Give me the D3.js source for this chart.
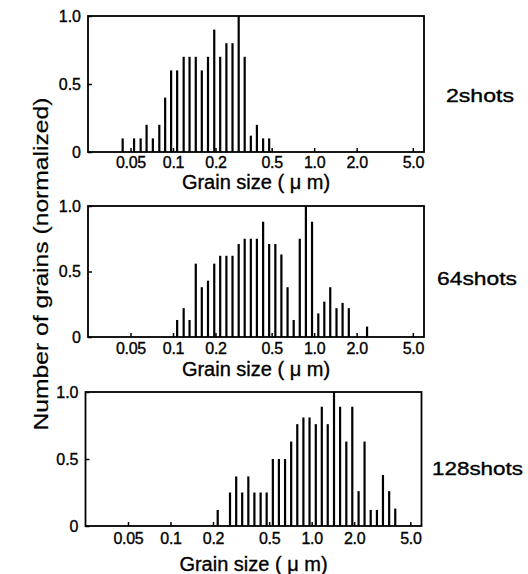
<!DOCTYPE html>
<html lang="en">
<head>
    <meta charset="UTF-8">
    <title>Grain size distribution</title>
    <script src="https://cdn.jsdelivr.net/npm/d3@7"></script>
    <style>
        body { margin: 0; background: #fff; }
        svg text { font-family: "Liberation Sans", Arial, Helvetica, sans-serif; fill: #000; stroke: #000; stroke-width: 0.35px; }
    </style>
</head>
<body>
<script>
    // bin centres (um) and normalized counts
    var size2 = [0.044, 0.053, 0.059, 0.065, 0.072, 0.080, 0.088, 0.097, 0.107, 0.119, 0.131, 0.145,
                 0.160, 0.177, 0.196, 0.216, 0.239, 0.264, 0.292, 0.322, 0.356, 0.393, 0.435, 0.480];
    var count2 = [0.1, 0.1, 0.1, 0.2, 0.1, 0.2, 0.4, 0.6, 0.6, 0.7, 0.7, 0.7,
                  0.6, 0.7, 0.9, 0.7, 0.8, 0.8, 1.0, 0.7, 0.12, 0.2, 0.1, 0.1];

    var size64 = [0.107, 0.119, 0.131, 0.145, 0.160, 0.177, 0.196, 0.216, 0.239, 0.264,
                  0.292, 0.322, 0.356, 0.393, 0.435, 0.480, 0.531, 0.586, 0.648, 0.716,
                  0.791, 0.874, 0.966, 1.07, 1.18, 1.30, 1.44, 1.59, 1.76, 2.37];
    var count64 = [0.13, 0.22, 0.13, 0.56, 0.38, 0.43, 0.56, 0.62, 0.62, 0.62,
                   0.71, 0.75, 0.75, 0.75, 0.88, 0.71, 0.71, 0.63, 0.38, 0.13,
                   0.75, 1.0, 0.88, 0.18, 0.27, 0.38, 0.22, 0.26, 0.22, 0.08];

    var size128 = [0.216, 0.264, 0.292, 0.322, 0.356, 0.393, 0.435, 0.480, 0.531, 0.586,
                   0.648, 0.716, 0.791, 0.874, 0.966, 1.07, 1.18, 1.30, 1.44, 1.59,
                   1.76, 1.94, 2.15, 2.37, 2.62, 2.90, 3.20, 3.54, 3.91];
    var count128 = [0.12, 0.25, 0.37, 0.25, 0.37, 0.25, 0.25, 0.25, 0.5, 0.5,
                    0.5, 0.63, 0.76, 0.81, 0.81, 0.76, 0.89, 0.76, 1.0, 0.89,
                    0.63, 0.89, 0.26, 0.63, 0.12, 0.12, 0.38, 0.26, 0.13];

    var sizeTicks = [0.05, 0.1, 0.2, 0.5, 1.0, 2.0, 5.0];
    var sizeTickLabels = ["0.05", "0.1", "0.2", "0.5", "1.0", "2.0", "5.0"];
    var countTicks = [0, 0.5, 1.0];
    var countTickLabels = ["0", "0.5", "1.0"];
    var shotLabels = ["2shots", "64shots", "128shots"];
    var xTitle = "Grain size ( \u03bc m)";
    var yTitle = "Number of grains (normalized)";

    var sizes = [size2, size64, size128];
    var counts = [count2, count64, count128];

    // panel placement in the page
    var panels = [
        {top: 16, bottom: 152, dx: 0, tickPad: 5, titleY: 189, labelX: 446, labelY: 102, labelW: 68},
        {top: 206, bottom: 337, dx: 0, tickPad: 6, titleY: 376, labelX: 437, labelY: 285, labelW: 80},
        {top: 392, bottom: 526, dx: -2.5, tickPad: 7, titleY: 571, labelX: 432, labelY: 475, labelW: 91}
    ];

    var svg = d3.select("body").append("svg")
        .attr("width", 528)
        .attr("height", 574);

    var x = d3.scaleLog()
        .domain([0.025, 6])
        .range([88, 424]);

    panels.forEach(function(p, i) {
        var y = d3.scaleLinear()
            .domain([0, 1])
            .range([p.bottom, p.top]);

        var g = svg.append("g")
            .attr("transform", "translate(" + p.dx + ",0)");

        var bars = sizes[i].map(function(s, j) { return {s: s, c: counts[i][j]}; });

        g.selectAll("rect.bar")
            .data(bars)
            .enter()
            .append("rect")
            .attr("class", "bar")
            .attr("x", function(d) { return x(d.s) - 1.1; })
            .attr("width", 2.2)
            .attr("y", function(d) { return y(d.c); })
            .attr("height", function(d) { return y(0) - y(d.c); })
            .style("fill", "#000");

        // frame
        g.append("rect")
            .attr("x", x.range()[0])
            .attr("y", p.top)
            .attr("width", x.range()[1] - x.range()[0])
            .attr("height", p.bottom - p.top)
            .style("fill", "none")
            .style("stroke", "#000")
            .style("stroke-width", 1.8);

        var xAxis = d3.axisBottom(x)
            .tickValues(sizeTicks)
            .tickFormat(function(d, k) { return sizeTickLabels[k]; })
            .tickSizeInner(-4)
            .tickSizeOuter(0)
            .tickPadding(p.tickPad);

        var xg = g.append("g")
            .attr("transform", "translate(0," + p.bottom + ")")
            .call(xAxis);
        xg.select(".domain").remove();
        xg.selectAll("line").style("stroke", "#000").style("stroke-width", 1.5);
        xg.selectAll("text").style("font-size", "16px").style("letter-spacing", "-0.3px");

        var yAxis = d3.axisLeft(y)
            .tickValues(countTicks)
            .tickFormat(function(d, k) { return countTickLabels[k]; })
            .tickSizeInner(-4)
            .tickSizeOuter(0)
            .tickPadding(7);

        var yg = g.append("g")
            .attr("transform", "translate(" + x.range()[0] + ",0)")
            .call(yAxis);
        yg.select(".domain").remove();
        yg.selectAll("line").style("stroke", "#000").style("stroke-width", 1.5);
        yg.selectAll("text").style("font-size", "16px");

        g.append("text")
            .attr("x", (x.range()[0] + x.range()[1]) / 2)
            .attr("y", p.titleY)
            .attr("text-anchor", "middle")
            .style("font-size", "20px")
            .text(xTitle);

        svg.append("text")
            .attr("x", p.labelX)
            .attr("y", p.labelY)
            .attr("textLength", p.labelW)
            .attr("lengthAdjust", "spacingAndGlyphs")
            .style("font-size", "19px")
            .text(shotLabels[i]);
    });

    svg.append("text")
        .attr("transform", "translate(48,264) rotate(-90)")
        .attr("text-anchor", "middle")
        .attr("textLength", 333)
        .attr("lengthAdjust", "spacingAndGlyphs")
        .style("font-size", "20px")
        .style("stroke-width", "0.2px")
        .text(yTitle);
</script>
</body>
</html>
